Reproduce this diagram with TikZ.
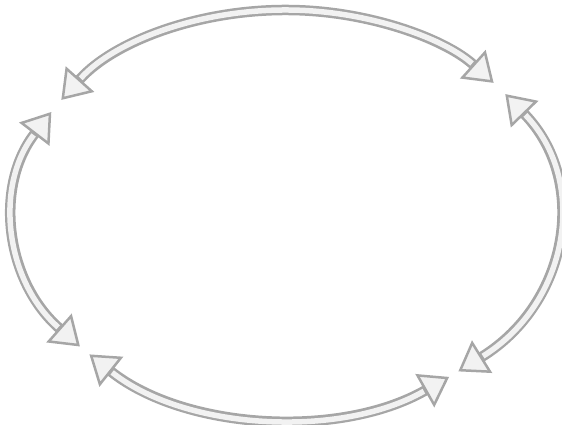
\documentclass[tikz,border=0pt]{standalone}
\usetikzlibrary{arrows.meta}

\begin{document}
\begin{tikzpicture}[
    tip/.tip={Triangle[length=5.6mm, width=7.6mm, line width=0.5mm, fill=gray!10]},
    band/.style={draw=gray!70, line width=2.1mm, {tip}-{tip},
                 postaction={draw=gray!10, line width=1.1mm, -, shorten <=5.8mm, shorten >=5.8mm}},
]

\useasboundingbox (0,0) rectangle (11.24,8.5);

% ── centre of the cycle ──
\coordinate (ctr) at (5.72,4.22);

% ── four double-headed arcs round the ellipse ──
\draw[band] ([shift={(146:5.42 and 4.08)}]ctr) arc[start angle=146, end angle=40, x radius=5.42, y radius=4.08];
\draw[band] ([shift={(36:5.42 and 4.08)}]ctr) arc[start angle=36, end angle=-50.5, x radius=5.42, y radius=4.08];
\draw[band] ([shift={(-53:5.42 and 4.08)}]ctr) arc[start angle=-53, end angle=-136.5, x radius=5.42, y radius=4.08];
\draw[band] ([shift={(-139.5:5.42 and 4.08)}]ctr) arc[start angle=-139.5, end angle=-210, x radius=5.42, y radius=4.08];

\end{tikzpicture}
\end{document}
